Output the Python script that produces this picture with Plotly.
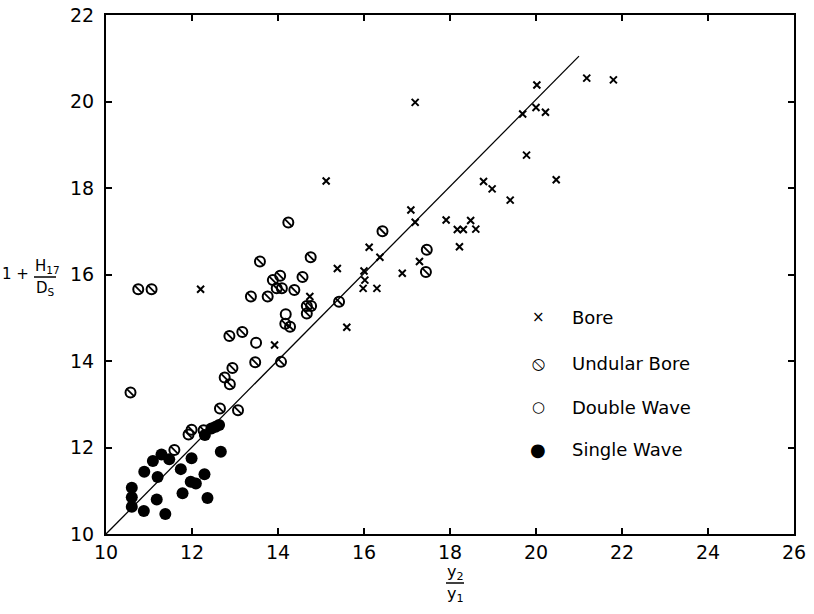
import plotly.graph_objects as go

# ---------------- data ----------------
bore_x = [12.2, 13.92, 14.74, 15.12, 15.38, 15.6, 16.0, 16.02, 15.98, 16.12, 16.3, 16.37,
          16.89, 17.09, 17.19, 17.19, 17.29, 17.91, 18.17, 18.31, 18.48, 18.6, 18.22, 18.78,
          18.98, 19.4, 19.69, 19.78, 20.0, 20.02, 20.22, 20.47, 21.18, 21.8]
bore_y = [15.66, 14.37, 15.49, 18.16, 16.14, 14.78, 16.08, 15.87, 15.68, 16.63, 15.68, 16.4,
          16.03, 17.49, 17.21, 19.98, 16.3, 17.26, 17.04, 17.04, 17.25, 17.05, 16.64, 18.15,
          17.98, 17.72, 19.71, 18.76, 19.86, 20.38, 19.75, 18.19, 20.54, 20.5]

undular_x = [10.57, 10.75, 11.06, 11.59, 11.92, 11.99, 12.27, 12.65, 13.07, 12.76, 12.88,
             12.94, 13.47, 14.07, 12.87, 13.17, 14.17, 14.28, 14.67, 14.77, 14.67, 13.58,
             14.24, 14.76, 13.88, 14.05, 13.97, 14.09, 14.57, 14.38, 13.37, 13.76, 15.42,
             16.43, 17.46, 17.44]
undular_y = [13.27, 15.66, 15.66, 11.94, 12.3, 12.41, 12.4, 12.9, 12.86, 13.62, 13.46,
             13.84, 13.97, 13.98, 14.58, 14.67, 14.86, 14.79, 15.1, 15.27, 15.27, 16.3,
             17.2, 16.4, 15.87, 15.97, 15.68, 15.68, 15.94, 15.64, 15.49, 15.49, 15.37,
             17.0, 16.57, 16.06]

double_x = [13.49, 14.18]
double_y = [14.42, 15.08]

single_x = [10.6, 10.6, 10.6, 10.89, 10.88, 11.09, 11.2, 11.18, 11.29, 11.47, 11.38, 11.74,
            11.78, 11.99, 11.97, 12.09, 12.29, 12.36, 12.67, 12.3, 12.45, 12.55, 12.63]
single_y = [11.07, 10.85, 10.63, 11.44, 10.53, 11.69, 11.32, 10.8, 11.84, 11.73, 10.46, 11.5,
            10.94, 11.75, 11.21, 11.17, 11.38, 10.83, 11.9, 12.29, 12.44, 12.48, 12.52]

fit_x = [10.0, 21.0]
fit_y = [10.0, 21.05]

x_ticks = [10, 12, 14, 16, 18, 20, 22, 24, 26]
y_ticks = [10, 12, 14, 16, 18, 20, 22]

legend_names = ["Bore", "Undular Bore", "Double Wave", "Single Wave"]
legend_glyphs = ["×", "⦸", "○", "●"]

# ---------------- figure ----------------
W, H = 814, 614
L, R, T, B = 106, 20, 15, 80
pw, ph = W - L - R, H - T - B


def px2paper(px, py):
    return (px - L) / pw, (H - B - py) / ph


FONT = "DejaVu Sans"
fig = go.Figure()

fig.add_trace(go.Scatter(x=fit_x, y=fit_y, mode="lines",
                         line=dict(color="black", width=1.3), showlegend=False))
fig.add_trace(go.Scatter(x=bore_x, y=bore_y, mode="markers", name="Bore",
                         marker=dict(symbol="x-thin", size=7,
                                     line=dict(color="black", width=2)),
                         showlegend=False))
fig.add_trace(go.Scatter(x=undular_x, y=undular_y, mode="markers", name="Undular Bore",
                         marker=dict(symbol="circle-open", size=10, color="black",
                                     line=dict(color="black", width=2)),
                         showlegend=False))
fig.add_trace(go.Scatter(x=undular_x, y=undular_y, mode="markers", name="Undular Bore slash",
                         marker=dict(symbol="line-nw", size=8, color="black",
                                     line=dict(color="black", width=1.8)),
                         showlegend=False))
fig.add_trace(go.Scatter(x=double_x, y=double_y, mode="markers", name="Double Wave",
                         marker=dict(symbol="circle-open", size=10, color="black",
                                     line=dict(color="black", width=2)),
                         showlegend=False))
fig.add_trace(go.Scatter(x=single_x, y=single_y, mode="markers", name="Single Wave",
                         marker=dict(symbol="circle", size=12, color="black",
                                     line=dict(width=0)),
                         showlegend=False))

annotations = []
legend_rows_py = [317, 363, 407, 449]
glyph_sizes = [15, 20, 15, 18]
for name, glyph, py, gs in zip(legend_names, legend_glyphs, legend_rows_py, glyph_sizes):
    gx, gy = px2paper(538, py)
    tx, ty = px2paper(570, py)
    annotations.append(dict(x=gx, y=gy, xref="paper", yref="paper", text=glyph,
                            showarrow=False, xanchor="center", yanchor="middle",
                            font=dict(family=FONT, size=gs, color="black")))
    annotations.append(dict(x=tx, y=ty, xref="paper", yref="paper", text=name,
                            showarrow=False, xanchor="left", yanchor="middle",
                            font=dict(family=FONT, size=18, color="black")))

# y-axis title: 1 + H17 / DS
for txt, (px, py), anchor in [("1 +", (31, 274), "right"),
                             ("H<sub>17</sub>", (33, 266), "left"),
                             ("D<sub>S</sub>", (34, 289), "left")]:
    ax_, ay_ = px2paper(px, py)
    annotations.append(dict(x=ax_, y=ay_, xref="paper", yref="paper", text=txt,
                            showarrow=False, xanchor=anchor, yanchor="middle",
                            font=dict(family=FONT, size=15, color="black")))
# x-axis title: y2 / y1
for txt, (px, py) in [("y<sub>2</sub>", (455, 572)), ("y<sub>1</sub>", (455, 594))]:
    ax_, ay_ = px2paper(px, py)
    annotations.append(dict(x=ax_, y=ay_, xref="paper", yref="paper", text=txt,
                            showarrow=False, xanchor="center", yanchor="middle",
                            font=dict(family=FONT, size=16, color="black")))

shapes = []
b0 = px2paper(34, 277)
b1 = px2paper(56, 277)
shapes.append(dict(type="line", xref="paper", yref="paper", x0=b0[0], y0=b0[1],
                   x1=b1[0], y1=b1[1], line=dict(color="black", width=1.5)))
c0 = px2paper(446, 583)
c1 = px2paper(464, 583)
shapes.append(dict(type="line", xref="paper", yref="paper", x0=c0[0], y0=c0[1],
                   x1=c1[0], y1=c1[1], line=dict(color="black", width=1.5)))

axis_common = dict(showgrid=False, zeroline=False, showline=True, linecolor="black",
                   linewidth=2, mirror="ticks", ticks="inside", ticklen=6, tickwidth=2,
                   tickcolor="black", automargin=False,
                   tickfont=dict(family=FONT, size=19, color="black"))

fig.update_layout(
    width=W, height=H,
    margin=dict(l=L, r=R, t=T, b=B, pad=0),
    paper_bgcolor="white", plot_bgcolor="white",
    xaxis=dict(range=[10, 26], tickvals=x_ticks, ticktext=[str(v) for v in x_ticks],
               ticklabelstandoff=0, **axis_common),
    yaxis=dict(range=[10, 22], tickvals=y_ticks, ticktext=[str(v) for v in y_ticks],
               ticklabelstandoff=6, **axis_common),
    annotations=annotations,
    shapes=shapes,
    showlegend=False,
)

fig.write_html("out.html", config={"displayModeBar": False},
               post_script="document.body.style.margin='0';document.body.style.padding='0';")
